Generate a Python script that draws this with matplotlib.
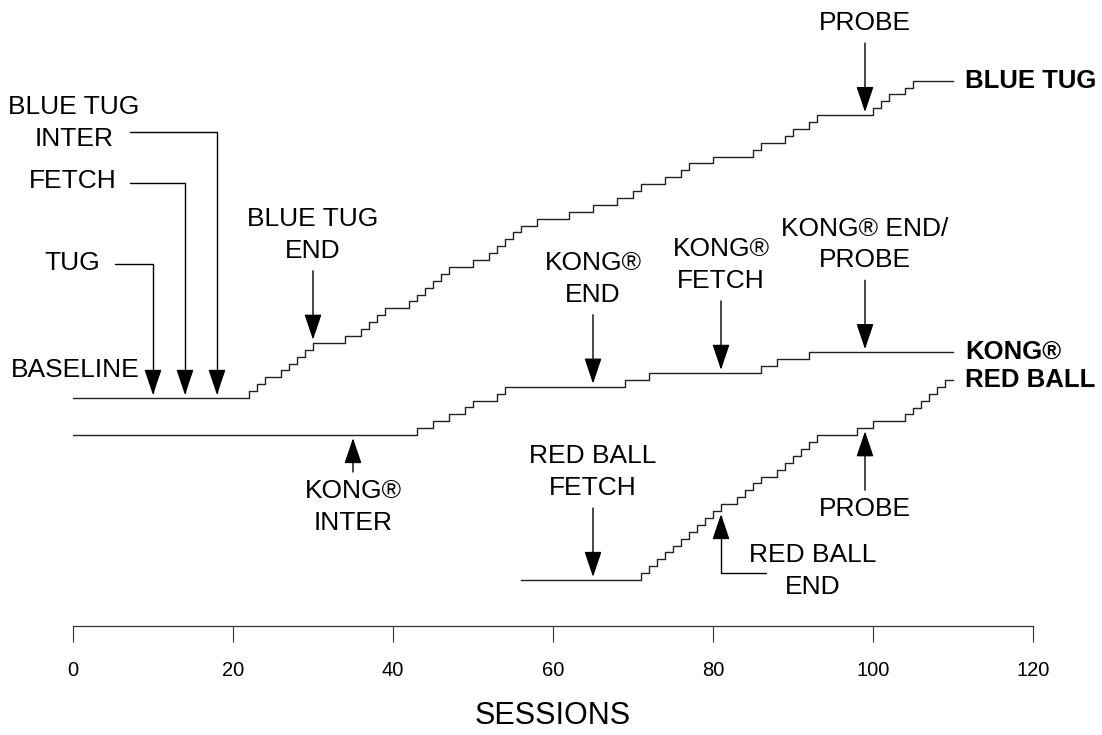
import numpy as np
import matplotlib
matplotlib.use("Agg")
import matplotlib.pyplot as plt

plt.rcParams['font.family'] = ['Liberation Sans', 'DejaVu Sans']

# ── data: sessions at which each cumulative record steps up by one ───────────
blue_tug_steps = [22, 23, 24, 26, 27, 28, 29, 30, 34, 36, 37, 38, 39, 42, 43,
                  44, 45, 46, 47, 50, 52, 53, 54, 55, 56, 58, 62, 65, 68, 70,
                  71, 74, 76, 77, 80, 85, 86, 89, 90, 92, 93, 100, 101, 102,
                  104, 105]
kong_steps = [43, 45, 47, 49, 50, 53, 54, 69, 72, 86, 88, 92]
red_ball_steps = [71, 72, 73, 74, 75, 76, 77, 78, 79, 80, 81, 83, 84, 85, 86,
                  88, 89, 90, 91, 92, 93, 98, 100, 104, 105, 106, 107, 108, 109]

blue_tug_span = (0, 110)
kong_span = (0, 110)
red_ball_span = (56, 110)

x_ticks = [0, 20, 40, 60, 80, 100, 120]

# ── layout ───────────────────────────────────────────────────────────────────
PX = 6.9                       # pixels per response
W, H = 1102, 735
AX_L, AX_R, AX_B, AX_T = 73, 1033, 626, 20
offsets = {'blue': 0.0, 'kong': -(435 - 398) / PX, 'red': -(580 - 398) / PX}
steps = {'blue': blue_tug_steps, 'kong': kong_steps, 'red': red_ball_steps}
spans = {'blue': blue_tug_span, 'kong': kong_span, 'red': red_ball_span}
names = {'blue': 'BLUE TUG', 'kong': 'KONG®', 'red': 'RED BALL'}

FS = 19
LS = 1.4
ARROW = dict(arrowstyle='-|>,head_length=0.8,head_width=0.27', mutation_scale=20,
             color='black', lw=1.0, shrinkA=0, shrinkB=2.2)


def level(key, s, side='right'):
    return np.searchsorted(steps[key], s, side=side) + offsets[key]


fig = plt.figure(figsize=(W / 100, H / 100), dpi=100)
ax = fig.add_axes([AX_L / W, (H - AX_B) / H, (AX_R - AX_L) / W, (AX_B - AX_T) / H])
ymin = -(AX_B - 398) / PX
ax.set_xlim(0, 120)
ax.set_ylim(ymin, ymin + (AX_B - AX_T) / PX)

for key in ('blue', 'kong', 'red'):
    st = np.asarray(steps[key])
    s0, s1 = spans[key]
    x = np.r_[s0, st, s1]
    y = np.r_[0, np.arange(1, len(st) + 1), len(st)] + offsets[key]
    ax.step(x, y, where='post', color='#222222', lw=1.0)
    ax.annotate(names[key], xy=(s1, y[-1]), xytext=(12, 0), textcoords='offset pixels',
                ha='left', va='center', fontsize=18.5, fontweight='bold')

# ── straight arrows ──────────────────────────────────────────────────────────
down_notes = [
    ('blue', 30, 'BLUE TUG\nEND'),
    ('blue', 99, 'PROBE'),
    ('kong', 65, 'KONG®\nEND'),
    ('kong', 81, 'KONG®\nFETCH'),
    ('kong', 99, 'KONG® END/\nPROBE'),
    ('red', 65, 'RED BALL\nFETCH'),
]
for key, s, txt in down_notes:
    p = (s, level(key, s))
    ax.annotate('', xy=p, xytext=(0, 72), textcoords='offset pixels', arrowprops=ARROW)
    ax.annotate(txt, xy=p, xytext=(0, 80), textcoords='offset pixels',
                ha='center', va='bottom', fontsize=FS, linespacing=LS)

up_notes = [
    ('kong', 35, 'KONG®\nINTER', 37),
    ('red', 99, 'PROBE', 62),
]
for key, s, txt, L in up_notes:
    p = (s, level(key, s, side='left'))
    ax.annotate('', xy=p, xytext=(0, -L), textcoords='offset pixels', arrowprops=ARROW)
    ax.annotate(txt, xy=p, xytext=(0, -L - 7), textcoords='offset pixels',
                ha='center', va='top', fontsize=FS, linespacing=LS)

# ── elbow arrows: (series, session, text, path start offset, text offset) ────
ELBOW = dict(ARROW, connectionstyle='angle,angleA=0,angleB=90,rad=0')
elbow_notes = [
    ('blue', 10, 'TUG', (-38, 134), (-81, 135)),
    ('blue', 14, 'FETCH', (-55, 215), (-112, 217)),
    ('blue', 18, 'BLUE TUG\nINTER', (-87, 266), (-143, 275)),
    ('red', 81, 'RED BALL\nEND', (45, -62), (92, -60)),
]
for key, s, txt, start, toff in elbow_notes:
    side = 'left' if start[1] < 0 else 'right'
    p = (s, level(key, s, side=side))
    ax.annotate('', xy=p, xytext=start, textcoords='offset pixels', arrowprops=ELBOW)
    ax.annotate(txt, xy=p, xytext=toff, textcoords='offset pixels',
                ha='center', va='center', fontsize=FS, linespacing=LS)

ax.annotate('BASELINE', xy=(0, level('blue', 0)), xytext=(2, 28), textcoords='offset pixels',
            ha='center', va='center', fontsize=FS)

# ── axes styling ─────────────────────────────────────────────────────────────
for side in ('left', 'right', 'top'):
    ax.spines[side].set_visible(False)
ax.spines['bottom'].set_bounds(0, 120)
ax.spines['bottom'].set_color('#333333')
ax.spines['bottom'].set_linewidth(0.9)
ax.set_yticks([])
ax.set_xticks(x_ticks)
ax.tick_params(axis='x', length=11.5, width=0.8, color='#333333', pad=14, labelsize=14.5)
ax.set_xlabel('SESSIONS', fontsize=22, labelpad=15)

fig.savefig('out.png', dpi=100)
